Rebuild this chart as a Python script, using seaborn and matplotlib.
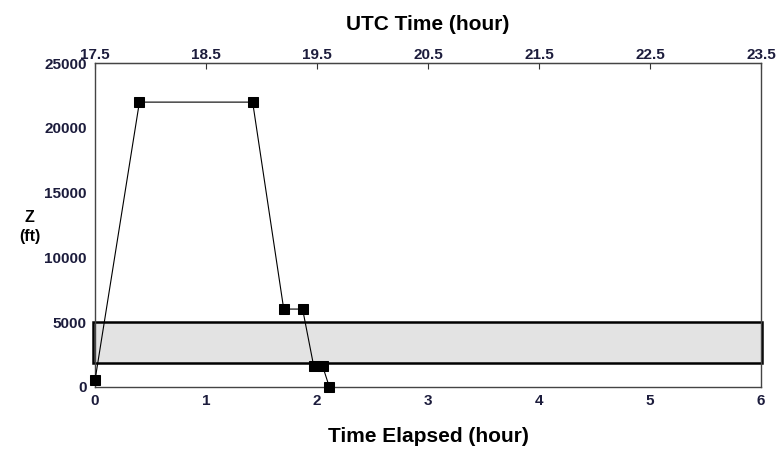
import matplotlib
matplotlib.use("Agg")
import matplotlib.pyplot as plt
import seaborn as sns
import pandas as pd
from matplotlib.patches import Rectangle

# Flight altitude profile
elapsed_hr = [0.0, 0.40, 1.42, 1.70, 1.87, 1.97, 2.05, 2.11]
altitude_ft = [500, 22000, 22000, 6000, 6000, 1600, 1600, 0]

# Shaded altitude layer
layer_bottom_ft = 1850
layer_top_ft = 5000

x_ticks = [0, 1, 2, 3, 4, 5, 6]
y_ticks = [0, 5000, 10000, 15000, 20000, 25000]
utc_start = 17.5
utc_ticks = [17.5, 18.5, 19.5, 20.5, 21.5, 22.5, 23.5]

sns.set_style("white")
plt.rcParams["font.family"] = ["Liberation Sans", "DejaVu Sans"]

df = pd.DataFrame({"elapsed": elapsed_hr, "alt": altitude_ft})

fig = plt.figure(figsize=(7.84, 4.49), dpi=100)
ax = fig.add_axes([0.1212, 0.1388, 0.8495, 0.7202])

tick_color = "#1c1c3c"
ax.add_patch(Rectangle((-0.02, layer_bottom_ft), 6.03, layer_top_ft - layer_bottom_ft,
                       facecolor="#e3e3e3", edgecolor="black", linewidth=1.8,
                       zorder=2, clip_on=False))

sns.lineplot(data=df, x="elapsed", y="alt", ax=ax, color="black", linewidth=0.8,
             marker="s", markersize=7, markeredgecolor="black",
             markerfacecolor="black", sort=False, zorder=3, clip_on=False)

ax.set_xlim(0, 6)
ax.set_ylim(0, 25000)
ax.set_xticks(x_ticks)
ax.set_yticks(y_ticks)
ax.set_xticklabels([str(t) for t in x_ticks])
ax.set_yticklabels([str(t) for t in y_ticks])
ax.set_xlabel("Time Elapsed (hour)", fontsize=15, fontweight="bold",
              color="black", labelpad=14)
ax.set_ylabel("Z\n(ft)", fontsize=11.5, fontweight="bold", rotation=0,
              va="center", ha="center", color="black", linespacing=1.4)
ax.yaxis.set_label_coords(-0.098, 0.494)

for sp in ax.spines.values():
    sp.set_color("#444444")
    sp.set_linewidth(1.0)
ax.tick_params(direction="in", length=4, width=0.8, color="#333333",
               labelsize=11, labelcolor=tick_color)
ax.tick_params(axis="x", pad=5)
ax.tick_params(axis="y", pad=6)
for lab in ax.get_xticklabels() + ax.get_yticklabels():
    lab.set_fontweight("bold")

# UTC time on the top axis
top = ax.secondary_xaxis("top", functions=(lambda x: x + utc_start, lambda u: u - utc_start))
top.set_xticks(utc_ticks)
top.set_xticklabels([f"{t:.1f}" for t in utc_ticks])
top.tick_params(direction="in", length=4, width=0.8, color="#333333",
                labelsize=11, labelcolor=tick_color, pad=1)
for lab in top.get_xticklabels():
    lab.set_fontweight("bold")
top.set_xlabel("UTC Time (hour)", fontsize=15, fontweight="bold",
               color="black", labelpad=13)

fig.savefig("out.png", dpi=100)
